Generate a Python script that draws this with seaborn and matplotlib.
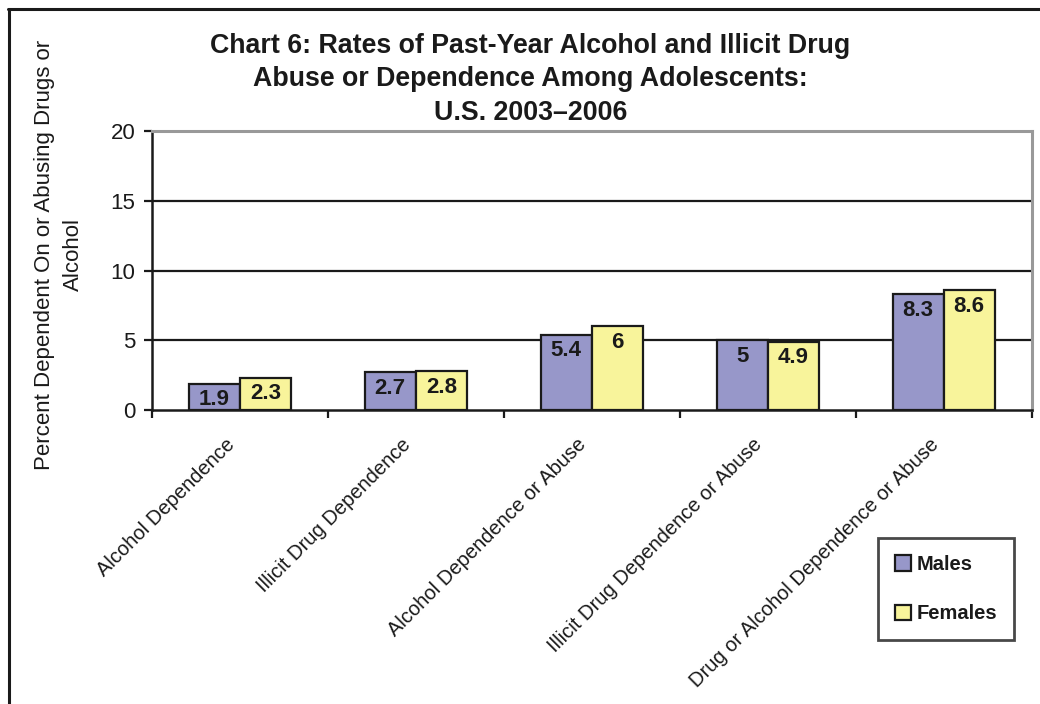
import matplotlib
matplotlib.use("Agg")
import matplotlib.pyplot as plt
import matplotlib.transforms as mtransforms
from matplotlib.lines import Line2D
import seaborn as sns
import pandas as pd

categories = ["Alcohol Dependence", "Illicit Drug Dependence", "Alcohol Dependence or Abuse",
              "Illicit Drug Dependence or Abuse", "Drug or Alcohol Dependence or Abuse"]
males = [1.9, 2.7, 5.4, 5.0, 8.3]
females = [2.3, 2.8, 6.0, 4.9, 8.6]
series = ["Males", "Females"]
colors = ["#9797c9", "#f8f49b"]
yticks = [0, 5, 10, 15, 20]

df = pd.DataFrame({
    "category": categories * 2,
    "value": males + females,
    "series": ["Males"] * len(categories) + ["Females"] * len(categories),
})

sns.set_theme(style="white")
plt.rcParams["font.family"] = ["Liberation Sans", "DejaVu Sans"]

fig = plt.figure(figsize=(10.4, 7.04), dpi=100)
ax = fig.add_axes([0.146, 0.4176, 0.846, 0.3963])

sns.barplot(data=df, x="category", y="value", hue="series", hue_order=series,
            palette=colors, width=0.58, edgecolor="#1a1a1a", linewidth=1.6,
            ax=ax, legend=True, saturation=1)

ax.set_ylim(0, 20)
ax.set_xlim(-0.5, len(categories) - 0.5)
ax.set_yticks(yticks)
ax.set_yticklabels([str(t) for t in yticks], fontsize=16, color="#1a1a1a")
for t in yticks[1:-1]:
    ax.axhline(t, color="#1a1a1a", lw=1.6, zorder=0)

ax.set_xlabel("")
ax.set_ylabel("")
ax.set_xticks(range(len(categories)))
ax.set_xticklabels(categories, rotation=45, ha="right", va="top",
                   rotation_mode="anchor", fontsize=14.5, color="#1a1a1a")
ax.tick_params(axis="x", which="major", length=0, pad=18)
offset = mtransforms.ScaledTranslation(-15 / 100, 0, fig.dpi_scale_trans)
for lbl in ax.get_xticklabels():
    lbl.set_transform(lbl.get_transform() + offset)
ax.set_xticks([i - 0.5 for i in range(len(categories) + 1)], minor=True)
ax.tick_params(axis="x", which="minor", length=6, width=1.6, color="#1a1a1a", direction="out", bottom=True)
ax.tick_params(axis="y", length=6, width=1.6, color="#1a1a1a", direction="out", left=True, pad=6)

for side in ["left", "bottom"]:
    ax.spines[side].set_color("#1a1a1a")
    ax.spines[side].set_linewidth(1.8)
for side in ["top", "right"]:
    ax.spines[side].set_color("#999999")
    ax.spines[side].set_linewidth(2.2)

for cont in ax.containers:
    for bar, v in zip(cont.patches, cont.datavalues):
        ax.annotate(f"{v:g}", xy=(bar.get_x() + bar.get_width() / 2, bar.get_height()),
                    xytext=(0, -4), textcoords="offset points", ha="center", va="top",
                    fontsize=16, fontweight="bold", color="#1a1a1a")

handles = [plt.Rectangle((0, 0), 1, 1, facecolor=c, edgecolor="#1a1a1a", lw=1.6) for c in colors]
leg = ax.legend(handles, series, loc="upper left", bbox_to_anchor=(878 / 1040, 1 - 538 / 704),
                bbox_transform=fig.transFigure, frameon=True, fancybox=False,
                prop={"size": 14.5, "weight": "bold"}, handlelength=0.8, handleheight=0.8,
                handletextpad=0.25, labelspacing=1.5, borderpad=0.85, borderaxespad=0)
leg.get_frame().set_edgecolor("#1a1a1a")
leg.get_frame().set_linewidth(2)
for txt in leg.get_texts():
    txt.set_color("#1a1a1a")

fig.text(0.51, 1 - 33 / 704, "Chart 6: Rates of Past-Year Alcohol and Illicit Drug\n"
         "Abuse or Dependence Among Adolescents:\nU.S. 2003–2006",
         ha="center", va="top", fontsize=19.3, fontweight="bold", color="#1a1a1a",
         linespacing=1.37, family=["Liberation Sans Narrow", "Liberation Sans", "DejaVu Sans"])

fig.text(0.0563, 0.638, "Percent Dependent On or Abusing Drugs or\nAlcohol", rotation=90,
         ha="center", va="center", fontsize=16, color="#1a1a1a", linespacing=1.5)

fig.add_artist(Line2D([8 / 1040, 1.0], [1 - 9 / 704, 1 - 9 / 704], transform=fig.transFigure,
                      color="#1a1a1a", lw=2.2))
fig.add_artist(Line2D([9 / 1040, 9 / 1040], [0, 1 - 9 / 704], transform=fig.transFigure,
                      color="#1a1a1a", lw=2.2))

fig.savefig("out.png", dpi=100)
